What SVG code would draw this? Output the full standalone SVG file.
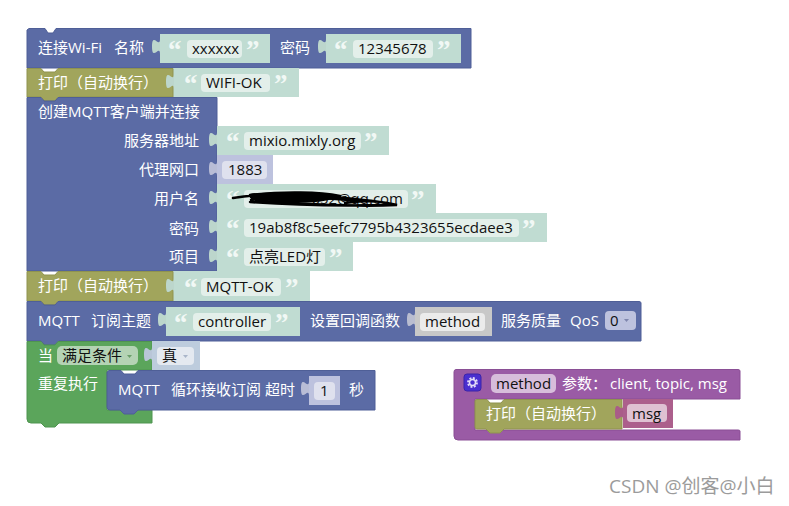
<svg xmlns="http://www.w3.org/2000/svg" width="789" height="506" viewBox="0 0 789 506">
<style>
text{font-family:"Open Sans","Noto Sans CJK SC",sans-serif;font-size:15px;white-space:pre}
.w{fill:#fff}
.d{fill:#111}
.e{text-anchor:end}
.q{font-family:"Liberation Serif",serif;font-size:27px;font-weight:bold;fill:#f1f8f5}
.blue{fill:#5b6ba5;stroke:#4f5f97;stroke-width:1}
.olive{fill:#a1a55c;stroke:#8f934f;stroke-width:1}
.green{fill:#5ba55b;stroke:#4f9450;stroke-width:1}
.purple{fill:#9a5ba5;stroke:#8a4f95;stroke-width:1}
.str{fill:#c0dcd2}
.num{fill:#bdc2de}
.var{fill:#c8c8c8}
.bool{fill:#bdccdd}
.arg{fill:#ac5f8c}
.f{fill:#e3efea}
.fn{fill:#dfe1ee}
.fv{fill:#ebebeb}
.fb{fill:#e4e9f0}
.fp{fill:#d7bddb}
.fa{fill:#dfc1d2}
.tstr{fill:#bcd6cc}
.tnum{fill:#b9bdd6}
.tvar{fill:#b9bdd0}
.tbool{fill:#b9c6d8}
.targ{fill:#a95c88}
</style>
<defs>
<path id="tab" d="M8,0c0,10 -8,-8 -8,7.500s8,-2.500 8,7.500Z"/>
</defs>
<g id="connectors"/>
<g id="wifi">
<path class="blue" d="M29,28.500H45L48,33H53L56,28.500H471V68H27V30Z"/>
<text class="w" x="38" y="53">连接Wi-Fi</text>
<text class="w" x="114" y="53">名称</text>
<use href="#tab" class="tstr" x="152" y="39"/>
<rect class="str" x="160" y="34" width="110" height="29"/>
<text class="q" x="168" y="59">“</text><rect class="f" x="187" y="40" width="55" height="18" rx="4"/>
<text class="d" x="192" y="54">xxxxxx</text><text class="q" x="246" y="59">”</text>
<text class="w" x="280" y="53">密码</text>
<use href="#tab" class="tstr" x="318" y="39"/>
<rect class="str" x="326" y="34" width="135" height="29"/>
<text class="q" x="334" y="59">“</text><rect class="f" x="353" y="40" width="80" height="18" rx="4"/>
<text class="d" x="358" y="54">12345678</text><text class="q" x="437" y="59">”</text>
</g>
<g id="print-wifi">
<rect class="str" x="173" y="68" width="126" height="29"/>
<path class="olive" d="M27,68.500H41L44,72H55L58,68.500H173V97H59L55,101H45L41,97H27Z"/>
<text class="w" x="38" y="88">打印（自动换行）</text>
<use href="#tab" class="tstr" x="166" y="74"/>
<text class="q" x="184" y="93">“</text><rect class="f" x="201" y="74" width="69" height="18" rx="4"/>
<text class="d" x="206" y="88">WIFI-OK</text><text class="q" x="274" y="93">”</text>
</g>
<g id="mqtt-connect">
<path class="blue" d="M27,97.500H41L44,101H55L58,97.500H217V271H27Z"/>
<text class="w" x="38" y="117">创建MQTT客户端并连接</text>
<text class="w e" x="199" y="146">服务器地址</text>
<text class="w e" x="199" y="175">代理网口</text>
<text class="w e" x="199" y="204">用户名</text>
<text class="w e" x="199" y="234">密码</text>
<text class="w e" x="199" y="262">项目</text>
</g>
<g id="server">
<rect class="str" x="217" y="126" width="172" height="29"/>
<use href="#tab" class="tstr" x="209" y="132"/>
<text class="q" x="226" y="151">“</text><rect class="f" x="244" y="132" width="117" height="18" rx="4"/>
<text class="d" x="249" y="146">mixio.mixly.org</text><text class="q" x="364" y="151">”</text>
</g>
<g id="port">
<rect class="num" x="217" y="155" width="56" height="29"/>
<use href="#tab" class="tnum" x="209" y="161"/>
<rect class="fn" x="222" y="161" width="45" height="18" rx="4"/>
<text class="d" x="228" y="175">1883</text>
</g>
<g id="user">
<rect class="str" x="217" y="184" width="219" height="29"/>
<use href="#tab" class="tstr" x="209" y="190"/>
<text class="q" x="226" y="209">“</text><rect class="f" x="244" y="190" width="164" height="18" rx="4"/>
<text class="d e" x="403" y="204">652@qq.com</text><text class="q" x="411" y="209">”</text>
<path d="M233,198C260,193 305,193 345,198 365,200 385,202 397,205 360,207 300,204 250,200 280,196 330,198 358,201M250,195C285,191 320,192 340,196M252,198H335M250,202C290,205 340,206 385,205M345,203C360,200 380,201 392,204" fill="none" stroke="#000" stroke-width="2.500" stroke-linecap="round"/>
<path d="M250,194C280,190 320,192 335,198 320,205 275,203 250,198Z" fill="#000"/>
</g>
<g id="pass">
<rect class="str" x="217" y="213" width="330" height="29"/>
<use href="#tab" class="tstr" x="209" y="219"/>
<text class="q" x="226" y="238">“</text><rect class="f" x="244" y="219" width="275" height="18" rx="4"/>
<text class="d" x="249" y="233">19ab8f8c5eefc7795b4323655ecdaee3</text><text class="q" x="522" y="238">”</text>
</g>
<g id="project">
<rect class="str" x="217" y="242" width="136" height="29"/>
<use href="#tab" class="tstr" x="209" y="248"/>
<text class="q" x="226" y="267">“</text><rect class="f" x="244" y="248" width="81" height="18" rx="4"/>
<text class="d" x="249" y="262">点亮LED灯</text><text class="q" x="329" y="267">”</text>
</g>
<g id="print-mqtt">
<rect class="str" x="173" y="271" width="137" height="30"/>
<path class="olive" d="M27,271.500H41L44,275H55L58,271.500H173V301H59L55,305H45L41,301H27Z"/>
<text class="w" x="38" y="291">打印（自动换行）</text>
<use href="#tab" class="tstr" x="166" y="278"/>
<text class="q" x="184" y="297">“</text><rect class="f" x="201" y="278" width="80" height="18" rx="4"/>
<text class="d" x="206" y="292">MQTT-OK</text><text class="q" x="285" y="297">”</text>
</g>
<g id="subscribe">
<path class="blue" d="M27,301.500H41L44,305H55L58,301.500H639Q641,301.500 641,303V341H59L55,345H45L41,341H27Z"/>
<text class="w" x="38" y="326">MQTT</text>
<text class="w" x="91" y="326">订阅主题</text>
<use href="#tab" class="tstr" x="158" y="312"/>
<rect class="str" x="166" y="307" width="134" height="29"/>
<text class="q" x="174" y="332">“</text><rect class="f" x="193" y="313" width="78" height="18" rx="4"/>
<text class="d" x="198" y="327">controller</text><text class="q" x="275" y="332">”</text>
<text class="w" x="310" y="326">设置回调函数</text>
<use href="#tab" class="tvar" x="407" y="312"/>
<rect class="var" x="415" y="307" width="77" height="29"/>
<rect class="fv" x="420" y="313" width="65" height="18" rx="4"/>
<text class="d" x="425" y="327">method</text>
<text class="w" x="501" y="326">服务质量</text>
<text class="w" x="570" y="326">QoS</text>
<rect x="605" y="311" width="31" height="19" rx="4" fill="#bdc2de"/>
<text class="d" x="610" y="326">0</text>
<path d="M624,319h5l-2.500,3Z" fill="#7f86ad"/>
</g>
<g id="while">
<path class="green" d="M27,341.500H41L44,345H55L58,341.500H152V370H107V410H152V423H59L55,427H45L41,423H31Q27,423 27,419Z"/>
<text class="w" x="38" y="361">当</text>
<rect x="57" y="346" width="81" height="19" rx="5" fill="#b4d3b4"/>
<text class="d" x="62" y="361">满足条件</text>
<path d="M127,355h5l-2.500,3Z" fill="#6b9f6b"/>
<use href="#tab" class="tbool" x="144" y="347"/>
<rect class="bool" x="152" y="341" width="48" height="29"/>
<rect class="fb" x="157" y="347" width="37" height="18" rx="4"/>
<text class="d" x="162" y="361">真</text>
<path d="M183,355h5l-2.500,3Z" fill="#a9b5c9"/>
<text class="w" x="38" y="389">重复执行</text>
</g>
<g id="mqtt-loop">
<path class="blue" d="M109,370.500H121L124,374H135L138,370.500H375V410H138L134,414H124L120,410H110Q107,410 107,407V372Z"/>
<text class="w" x="118" y="395">MQTT</text>
<text class="w" x="171" y="395">循环接收订阅 超时</text>
<use href="#tab" class="tnum" x="301" y="381"/>
<rect class="num" x="309" y="376" width="31" height="29"/>
<rect class="fn" x="314" y="382" width="21" height="18" rx="4"/>
<text class="d" x="320" y="396">1</text>
<text class="w" x="349" y="395">秒</text>
</g>
<g id="procedure">
<path class="purple" d="M456,369.500H738Q740,369.500 740,371V399H475V430H738Q740,430 740,431V440H458Q454,440 454,436V372Q454,369.500 456,369.500Z"/>
<rect x="464" y="374" width="17" height="17" rx="3" fill="#4a2fd0" stroke="#3b25a8"/>
<circle cx="472.500" cy="382.500" r="4.500" fill="none" stroke="#e4def8" stroke-width="1.800" stroke-dasharray="2 1.500"/>
<circle cx="472.500" cy="382.500" r="3" fill="none" stroke="#e4def8" stroke-width="1.500"/>
<rect x="491" y="374" width="65" height="19" rx="5" class="fp"/>
<text class="d" x="496" y="389">method</text>
<text class="w" x="562" y="389">参数：</text>
<text class="w" x="610" y="389">client, topic, msg</text>
</g>
<g id="print-msg">
<path class="olive" d="M477,399.500H487L490,403H501L504,399.500H622V429H504L500,433H490L486,429H477Q475,429 475,427V401Q475,399.500 477,399.500Z"/>
<text class="w" x="486" y="419">打印（自动换行）</text>
<use href="#tab" class="targ" x="615" y="405"/>
<rect class="arg" x="623" y="399" width="50" height="29"/>
<rect class="fa" x="627" y="404" width="40" height="18" rx="4"/>
<text class="d" x="632" y="419">msg</text>
</g>
<text x="609" y="493" style="font-size:19px;fill:#9b9b9b">CSDN @创客@小白</text>
</svg>
